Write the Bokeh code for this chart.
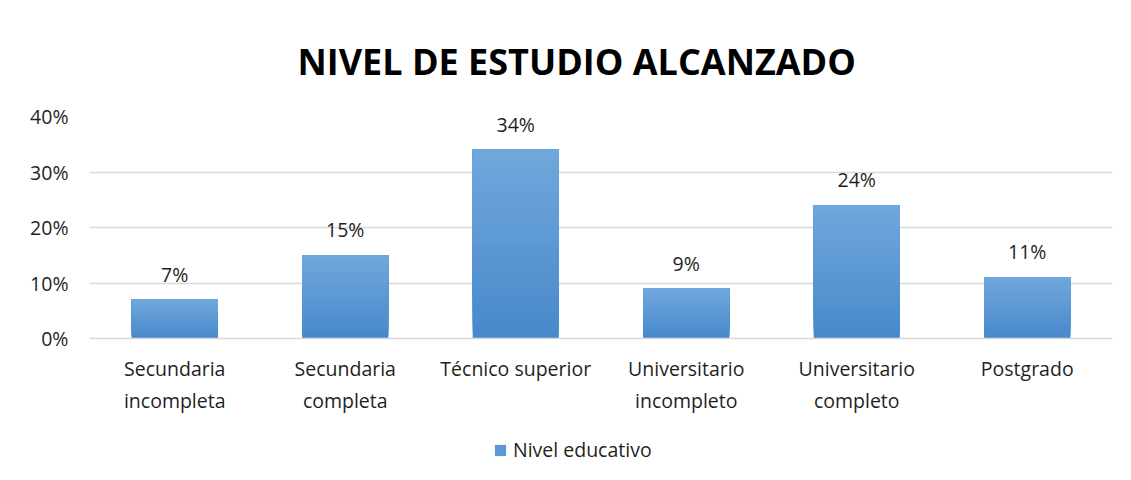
from bokeh.plotting import figure
from bokeh.layouts import column
from bokeh.models import (ColumnDataSource, FactorRange, Range1d, FixedTicker,
                          NumeralTickFormatter, LabelSet, Legend, LegendItem)
from bokeh.core.properties import value
from bokeh.embed import file_html
from bokeh.resources import INLINE

categories = ["Secundaria\nincompleta", "Secundaria\ncompleta", "Técnico superior",
              "Universitario\nincompleto", "Universitario\ncompleto", "Postgrado"]
values = [0.07, 0.15, 0.34, 0.09, 0.24, 0.11]
value_labels = ["7%", "15%", "34%", "9%", "24%", "11%"]
series_name = "Nivel educativo"
title_text = "NIVEL DE ESTUDIO ALCANZADO"

FONT = "Open Sans"
TXT = "#1f1f1f"
FS = "19.5px"

p = figure(width=1131, height=432, output_backend="svg", toolbar_location=None,
           x_range=FactorRange(*categories, range_padding=0),
           y_range=Range1d(0, 0.40),
           min_border_left=89, min_border_right=19, min_border_top=116,
           min_border_bottom=94)

p.title.text = title_text
p.title.align = "left"
p.title.offset = 208
p.title.text_font = FONT
p.title.text_font_size = "36px"
p.title.text_font_style = "bold"
p.title.text_color = "#000000"
p.title.standoff = 62

# gradient bars: overlapping slices of each bar's own height
N = 30
top_c = (112, 167, 220)
bot_c = (72, 137, 203)
for i in range(N):
    t = i / (N - 1)
    c = tuple(int(round(bot_c[k] + t * (top_c[k] - bot_c[k]))) for k in range(3))
    col = "#%02x%02x%02x" % c
    src = ColumnDataSource(dict(x=categories,
                                b=[v * i / N for v in values],
                                t=values))
    p.vbar(x="x", bottom="b", top="t", width=0.505, source=src,
           fill_color=col, line_color=None)

lab_src = ColumnDataSource(dict(x=categories, y=values, t=value_labels))
p.add_layout(LabelSet(x="x", y="y", text="t", source=lab_src, text_align="center",
                      text_baseline="bottom", y_offset=12, text_font=value(FONT),
                      text_font_size=value(FS), text_color=TXT))

p.outline_line_color = None
p.background_fill_color = "white"
p.border_fill_color = "white"

p.xgrid.grid_line_color = None
p.ygrid.grid_line_color = "#d9d9d9"
p.ygrid.grid_line_width = 1.5
p.yaxis.ticker = FixedTicker(ticks=[0, 0.1, 0.2, 0.3, 0.4])
p.yaxis.formatter = NumeralTickFormatter(format="0%")
p.yaxis.axis_line_color = None
p.yaxis.major_tick_line_color = None
p.yaxis.minor_tick_line_color = None
p.yaxis.major_label_standoff = 15
p.yaxis.major_label_text_font = FONT
p.yaxis.major_label_text_font_size = FS
p.yaxis.major_label_text_color = TXT

p.xaxis.axis_line_color = "#d9d9d9"
p.xaxis.axis_line_width = 1.5
p.xaxis.major_tick_line_color = None
p.xaxis.minor_tick_line_color = None
p.xaxis.major_label_standoff = 10
p.xaxis.major_label_text_font = FONT
p.xaxis.major_label_text_font_size = FS
p.xaxis.major_label_text_color = TXT

# legend strip below the chart (its series renderer lies outside the visible y-range)
p2 = figure(width=1131, height=48, output_backend="svg", toolbar_location=None,
            x_range=p.x_range, y_range=Range1d(1, 2),
            x_axis_location=None, y_axis_location=None,
            min_border_left=0, min_border_right=0, min_border_top=0,
            min_border_bottom=0)
p2.grid.visible = False
p2.outline_line_color = None
p2.background_fill_color = "white"
p2.border_fill_color = "white"
swatch = p2.vbar(x=categories, top=values, width=0.5, fill_color="#5c98d4",
                 line_color=None)
legend = Legend(items=[LegendItem(label=series_name, renderers=[swatch])],
                orientation="horizontal", location=(404, 17),
                label_text_font=FONT, label_text_font_size=FS,
                label_text_color=TXT, glyph_width=14, glyph_height=14,
                label_standoff=6, border_line_color=None, background_fill_alpha=0,
                padding=0, margin=0)
p2.add_layout(legend, "center")

layout = column(p, p2, spacing=0)
open("out.html", "w").write(file_html(layout, INLINE))
